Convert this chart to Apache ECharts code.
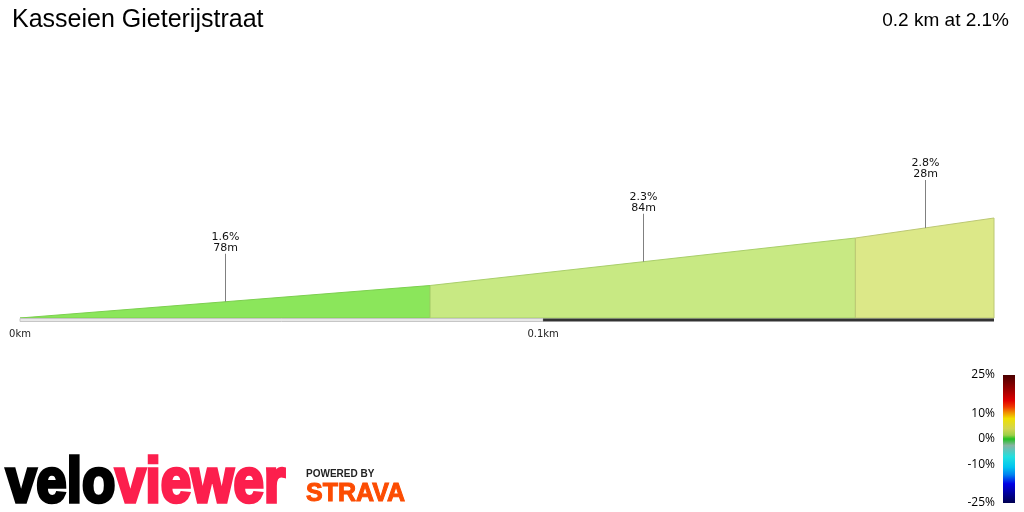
<!DOCTYPE html>
<html>
<head>
<meta charset="utf-8">
<script src="https://cdn.jsdelivr.net/npm/echarts@6/dist/echarts.min.js"></script>
<style>
html, body { margin: 0; padding: 0; background: #fff; }
#chart { width: 1024px; height: 512px; }
</style>
</head>
<body>
<div id="chart"></div>
<script>
// segment boundaries along the climb (km) and elevation there (m)
const segDist = [0, 0.0784, 0.1597, 0.1862];
const segElev = [10.0, 11.3, 13.2, 14.0];
const segGrade = ['1.6%', '2.3%', '2.8%'];
const segLength = ['78m', '84m', '28m'];
const segColors = ['#8be65b', '#c8e983', '#dce888'];
const segBorders = ['#7ccf4f', '#a9cf6a', '#bcc874'];
const distBands = [[0, 0.1], [0.1, 0.1862]];
const distTicks = [0, 0.1];
const scaleTicks = [25, 10, 0, -10, -25];
const elevMin = 10;
const elevMax = 18;

// gradient of the grade colour scale, top (25%) to bottom (-25%)
const scaleStops = [
  { offset: 0.00, color: '#4a0000' },
  { offset: 0.12, color: '#a00000' },
  { offset: 0.20, color: '#e00000' },
  { offset: 0.25, color: '#f03a00' },
  { offset: 0.29, color: '#f08a00' },
  { offset: 0.34, color: '#f0e000' },
  { offset: 0.42, color: '#d2d650' },
  { offset: 0.47, color: '#9ccf48' },
  { offset: 0.50, color: '#22c022' },
  { offset: 0.55, color: '#86b4a2' },
  { offset: 0.64, color: '#20e0e0' },
  { offset: 0.72, color: '#00c4f0' },
  { offset: 0.78, color: '#0080f0' },
  { offset: 0.85, color: '#0000e6' },
  { offset: 0.92, color: '#0000a0' },
  { offset: 1.00, color: '#000050' }
];

const segData = [];
for (let i = 0; i < segGrade.length; i++) {
  segData.push([segDist[i], segElev[i], segDist[i + 1], segElev[i + 1]]);
}

const chart = echarts.init(document.getElementById('chart'));

chart.setOption({
  animation: false,
  backgroundColor: '#fff',
  title: [{
    text: 'Kasseien Gieterijstraat',
    left: 7,
    top: 3,
    textStyle: { fontFamily: 'Liberation Sans', fontSize: 25, fontWeight: 'normal', color: '#000' }
  }, {
    text: '0.2 km at 2.1%',
    right: 10,
    top: 6,
    textStyle: { fontFamily: 'Liberation Sans', fontSize: 19, fontWeight: 'normal', color: '#000' }
  }],
  grid: [
    { left: 20, right: 30, top: 118, bottom: 194 },
    { left: 1003, width: 12, top: 375, height: 128 }
  ],
  xAxis: [{
    type: 'value',
    min: 0,
    max: segDist[segDist.length - 1],
    interval: 0.1,
    axisLine: { show: false },
    axisTick: { show: false },
    splitLine: { show: false },
    axisLabel: {
      formatter: v => distTicks.some(t => Math.abs(t - v) < 1e-6) ? v + 'km' : '',
      fontFamily: 'DejaVu Sans',
      fontSize: 10,
      color: '#222',
      margin: 11
    }
  }, {
    type: 'value',
    gridIndex: 1,
    min: 0,
    max: 1,
    show: false
  }],
  yAxis: [{
    type: 'value',
    min: elevMin,
    max: elevMax,
    show: false
  }, {
    type: 'value',
    gridIndex: 1,
    min: -25,
    max: 25,
    interval: 5,
    axisLine: { show: false },
    axisTick: { show: false },
    splitLine: { show: false },
    axisLabel: {
      formatter: v => scaleTicks.indexOf(v) >= 0 ? v + '%' : '',
      fontFamily: 'Open Sans',
      fontSize: 12,
      color: '#000',
      margin: 8
    }
  }],
  series: [{
    // climb segments
    type: 'custom',
    data: segData,
    renderItem: (params, api) => {
      const x0 = api.value(0), e0 = api.value(1), x1 = api.value(2), e1 = api.value(3);
      return {
        type: 'polygon',
        shape: { points: [api.coord([x0, elevMin]), api.coord([x0, e0]), api.coord([x1, e1]), api.coord([x1, elevMin])] },
        style: { fill: segColors[params.dataIndex], stroke: segBorders[params.dataIndex], lineWidth: 1 }
      };
    }
  }, {
    // grade / length callouts
    type: 'custom',
    data: segData,
    z: 3,
    renderItem: (params, api) => {
      const mid = api.coord([(api.value(0) + api.value(2)) / 2, (api.value(1) + api.value(3)) / 2]);
      const x = Math.round(mid[0]) + 0.5;
      return {
        type: 'group',
        children: [{
          type: 'line',
          shape: { x1: x, y1: mid[1], x2: x, y2: mid[1] - 48 },
          style: { stroke: '#808080', lineWidth: 1 }
        }, {
          type: 'text',
          x: x,
          y: mid[1] - 48,
          style: {
            text: segGrade[params.dataIndex] + '\n' + segLength[params.dataIndex],
            font: '11px "DejaVu Sans"',
            fill: '#111',
            align: 'center',
            verticalAlign: 'bottom',
            lineHeight: 11
          }
        }]
      };
    }
  }, {
    // distance bar under the profile
    type: 'custom',
    data: distBands,
    renderItem: (params, api) => {
      const a = api.coord([api.value(0), elevMin]);
      const b = api.coord([api.value(1), elevMin]);
      const light = params.dataIndex % 2 === 0;
      return {
        type: 'rect',
        shape: { x: a[0], y: a[1] + 0.5, width: b[0] - a[0], height: 3 },
        style: light ? { fill: '#e8e8e8', stroke: '#c6c6c6', lineWidth: 1 } : { fill: '#333' }
      };
    }
  }, {
    // grade colour scale
    type: 'custom',
    xAxisIndex: 1,
    yAxisIndex: 1,
    data: [[0, 25, 1, -25]],
    renderItem: (params, api) => {
      const a = api.coord([api.value(0), api.value(1)]);
      const b = api.coord([api.value(2), api.value(3)]);
      return {
        type: 'rect',
        shape: { x: a[0], y: a[1], width: b[0] - a[0], height: b[1] - a[1] },
        style: { fill: new echarts.graphic.LinearGradient(0, 0, 0, 1, scaleStops) }
      };
    }
  }],
  graphic: [{
    type: 'text',
    x: 6,
    y: 484,
    scaleX: 1.03,
    scaleY: 1.2,
    style: {
      text: '{a|velo}{b|viewer}',
      verticalAlign: 'middle',
      rich: {
        a: { fontFamily: 'Liberation Sans', fontWeight: 'bold', fontSize: 53, fill: '#000', stroke: '#000', lineWidth: 3 },
        b: { fontFamily: 'Liberation Sans', fontWeight: 'bold', fontSize: 53, fill: '#fc1f4d', stroke: '#fc1f4d', lineWidth: 3 }
      }
    }
  }, {
    type: 'text',
    x: 306,
    y: 474,
    style: {
      text: 'POWERED BY',
      font: 'bold 10px "Liberation Sans"',
      fill: '#222',
      verticalAlign: 'middle'
    }
  }, {
    type: 'text',
    x: 306,
    y: 494,
    style: {
      text: 'STRAVA',
      font: 'bold 25px "Liberation Sans"',
      fill: '#fc4c02',
      stroke: '#fc4c02',
      lineWidth: 1,
      verticalAlign: 'middle'
    }
  }]
});
</script>
</body>
</html>
